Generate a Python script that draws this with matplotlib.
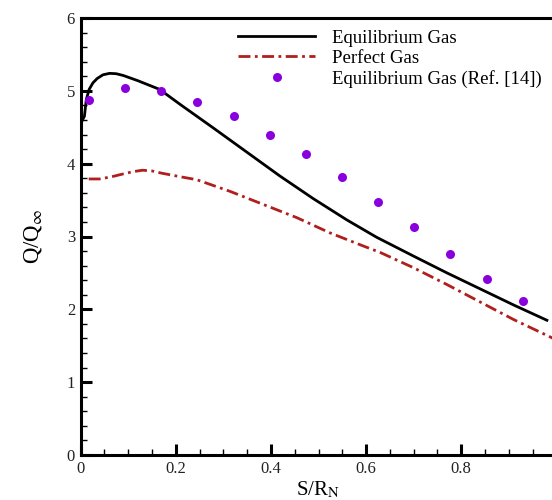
import numpy as np
import matplotlib
matplotlib.use('Agg')
import matplotlib.pyplot as plt
from matplotlib.ticker import MultipleLocator

plt.rcParams['font.family'] = ['Liberation Serif', 'DejaVu Serif']
plt.rcParams['mathtext.fontset'] = 'stix'

# equilibrium gas (present)
eq_x = [0, 0.004, 0.008, 0.012, 0.018, 0.026, 0.035, 0.047, 0.061, 0.075, 0.09,
        0.12, 0.166, 0.21, 0.279, 0.349, 0.419, 0.489, 0.559, 0.622, 0.70,
        0.77, 0.84, 0.91, 0.98]
eq_y = [4.55, 4.60, 4.65, 4.88, 5.02, 5.11, 5.17, 5.22, 5.24, 5.235, 5.21,
        5.14, 5.02, 4.81, 4.49, 4.16, 3.83, 3.52, 3.23, 2.99, 2.73,
        2.50, 2.28, 2.06, 1.85]

# perfect gas
pg_x = [0.017, 0.04, 0.065, 0.09, 0.11, 0.13, 0.15, 0.17, 0.21, 0.244, 0.314,
        0.384, 0.454, 0.524, 0.594, 0.63, 0.70, 0.77, 0.84, 0.91, 1.0]
pg_y = [3.79, 3.79, 3.82, 3.86, 3.89, 3.91, 3.90, 3.87, 3.82, 3.78, 3.62,
        3.44, 3.26, 3.05, 2.87, 2.78, 2.57, 2.34, 2.10, 1.86, 1.58]

# Ref. [14]
ref_x = [0.017, 0.094, 0.17, 0.245, 0.322, 0.398, 0.473, 0.55, 0.624, 0.70,
         0.777, 0.854, 0.93]
ref_y = [4.87, 5.04, 5.0, 4.85, 4.65, 4.40, 4.13, 3.82, 3.48, 3.13,
         2.76, 2.42, 2.11]

fig = plt.figure(figsize=(5.52, 5.0), dpi=100)
ax = fig.add_axes([0.146, 0.09, 0.862, 0.874])

ax.plot(eq_x, eq_y, color='black', lw=2, label='Equilibrium Gas')
ax.plot(pg_x, pg_y, color='#B01E1E', lw=2, linestyle=(0, (4.3, 1.6, 1, 1.6)),
        label='Perfect Gas')
ax.plot(ref_x, ref_y, 'o', color='#8A00DD', ms=6.5, mec='none',
        label='Equilibrium Gas (Ref. [14])')

ax.set_xlim(0, 1)
ax.set_ylim(0, 6)
ax.xaxis.set_major_locator(MultipleLocator(0.2))
ax.xaxis.set_minor_locator(MultipleLocator(0.05))
ax.yaxis.set_major_locator(MultipleLocator(1))
ax.yaxis.set_minor_locator(MultipleLocator(0.2))
ax.set_xticks([0, 0.2, 0.4, 0.6, 0.8])
ax.set_xticklabels(['0', '0.2', '0.4', '0.6', '0.8'])

for s in ax.spines.values():
    s.set_linewidth(2.2)
ax.tick_params(which='major', direction='in', length=8, width=2.2,
               labelsize=12, pad=4, labelcolor='#222222')
ax.tick_params(which='minor', direction='in', length=4.5, width=1)

ax.set_xlabel(r'S/R$_\mathrm{N}$', fontsize=15, labelpad=2)
ax.set_ylabel(r'Q/Q$_\infty$', fontsize=16.5, labelpad=16)

ax.legend(loc='upper left', bbox_to_anchor=(0.331, 0.973), frameon=False,
          fontsize=13.5, handlelength=4.1, handletextpad=0.9,
          labelspacing=0.15, borderaxespad=0, borderpad=0)

fig.savefig('out.png', dpi=100)
